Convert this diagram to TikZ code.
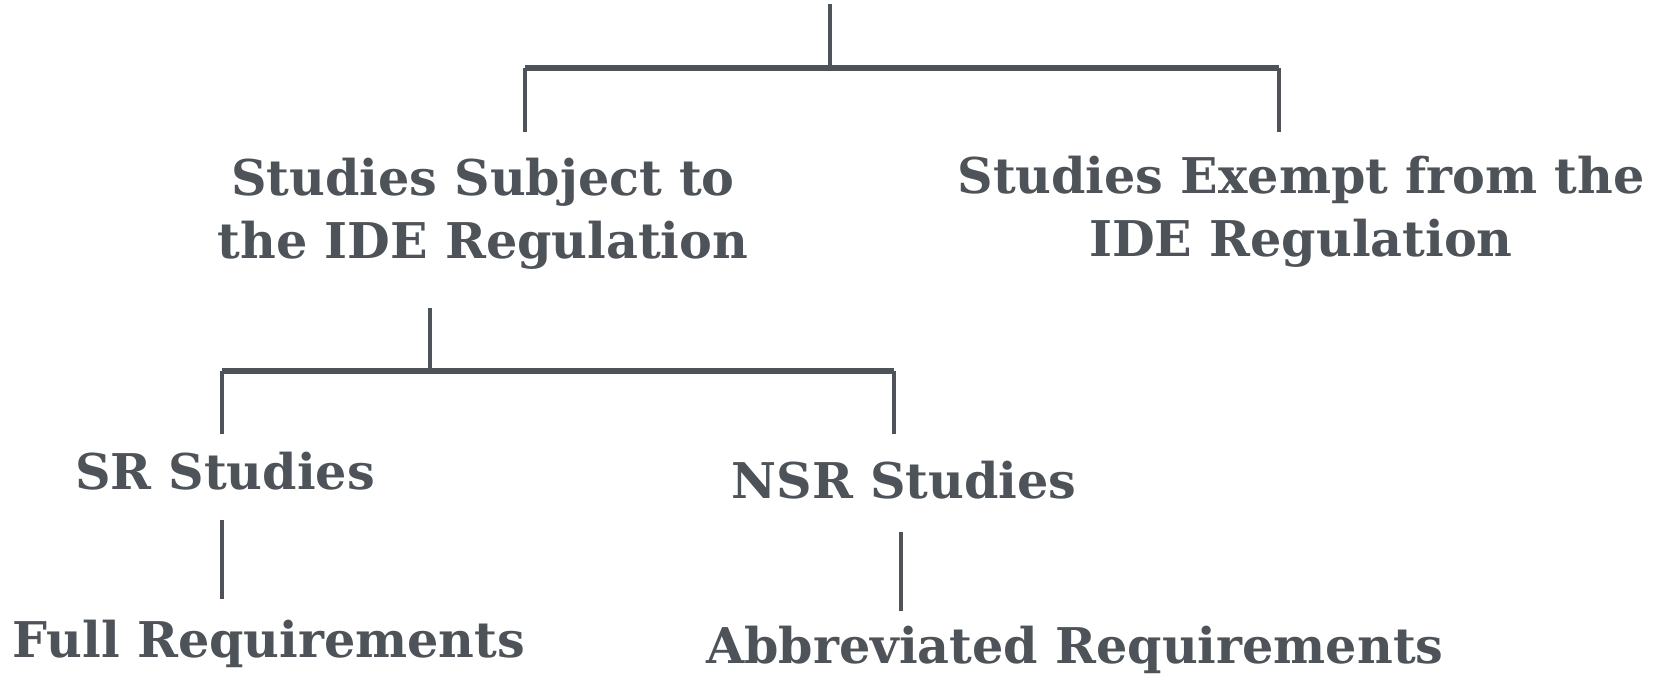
\documentclass[tikz,border=0pt]{standalone}
\usepackage{fontspec}
\setmainfont{DejaVu Serif}
\usetikzlibrary{positioning}
\definecolor{slate}{HTML}{4D5358}

\begin{document}
\begin{tikzpicture}[x=0.01cm, y=-0.01cm,
    box/.style={font=\bfseries\fontsize{14}{18}\selectfont, text=slate, align=center, inner sep=0pt},
    stem/.style={draw=slate, line width=1.15pt},
    bar/.style={draw=slate, line width=1.45pt}]

    % fixes the page to the reference size
    \useasboundingbox (0,0) rectangle (1656,675);

    % --- first level ---
    \node[box] (subj) at (483,214) {Studies Subject to\\the IDE Regulation};
    \node[box] (exempt) at (1301,212) {Studies Exempt from the\\IDE Regulation};

    % --- second level ---
    \node[box, anchor=base] (sr) at (225,489) {SR Studies};
    \node[box, anchor=base] (nsr) at (904,498) {NSR Studies};

    % --- third level ---
    \node[box, anchor=base] (full) at (269,657) {Full Requirements};
    \node[box, anchor=base] (abbr) at (1075,663) {Abbreviated Requirements};

    % --- line ends ---
    \coordinate (top) at (830,4);
    \coordinate (topj) at (830,68);
    \coordinate (subjj) at (525,68);
    \coordinate (subjt) at (525,132);
    \coordinate (exj) at (1279,68);
    \coordinate (ext) at (1279,132);

    \coordinate (midt) at (430,308);
    \coordinate (midj) at (430,371);
    \coordinate (srj) at (222,371);
    \coordinate (srt) at (222,434);
    \coordinate (nsrj) at (894,371);
    \coordinate (nsrt) at (894,434);

    \coordinate (srb) at (222,520);
    \coordinate (fullt) at (222,599);
    \coordinate (nsrb) at (901,532);
    \coordinate (abbrt) at (901,611);

    % --- upper bracket ---
    \draw[stem] (top) -- (topj);
    \draw[bar] (subjj) -- (exj);
    \draw[stem] (subjj) -- (subjt);
    \draw[stem] (exj) -- (ext);

    % --- lower bracket ---
    \draw[stem] (midt) -- (midj);
    \draw[bar] (srj) -- (nsrj);
    \draw[stem] (srj) -- (srt);
    \draw[stem] (nsrj) -- (nsrt);

    % --- single stems ---
    \draw[stem] (srb) -- (fullt);
    \draw[stem] (nsrb) -- (abbrt);
\end{tikzpicture}
\end{document}
